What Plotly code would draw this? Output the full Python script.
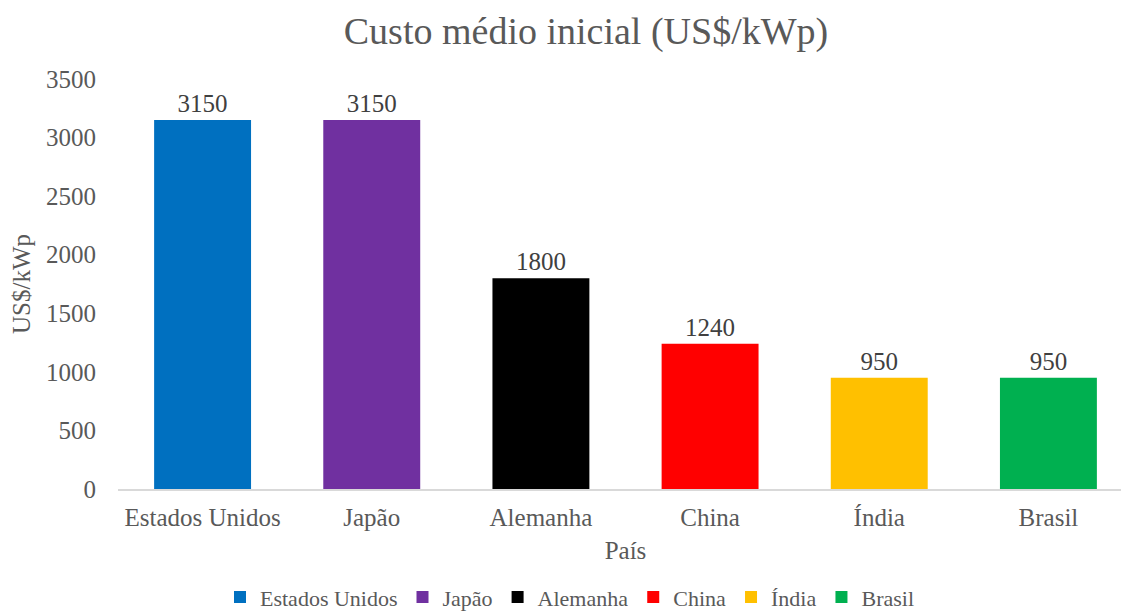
import plotly.graph_objects as go

paises = ["Estados Unidos", "Japão", "Alemanha", "China", "Índia", "Brasil"]
custos = [3150, 3150, 1800, 1240, 950, 950]
cores = ["#0070C0", "#7030A0", "#000000", "#FF0000", "#FFC000", "#00B050"]
y_ticks = [0, 500, 1000, 1500, 2000, 2500, 3000, 3500]

FONT = "Liberation Serif"
GRAY = "#595959"

fig = go.Figure()

# uma série por país, para a legenda mostrar cada cor
for pais, custo, cor in zip(paises, custos, cores):
    fig.add_trace(go.Bar(
        x=[pais],
        y=[custo],
        name=pais,
        marker=dict(color=cor, line=dict(width=0)),
        text=[str(custo)],
        textposition="outside",
        constraintext="none",
        textfont=dict(family=FONT, size=25, color="#404040"),
        cliponaxis=False,
    ))

# a página tem 8px de margem no body, por isso tudo vai 8px para cima/esquerda
fig.update_layout(
    width=1129,
    height=612,
    barmode="overlay",
    bargap=0.427,
    plot_bgcolor="white",
    paper_bgcolor="white",
    margin=dict(l=110, r=4, t=71, b=131, autoexpand=False),
    font=dict(family=FONT, size=25, color=GRAY),
    title=dict(
        text="Custo médio inicial (US$/kWp)",
        font=dict(family=FONT, size=38, color=GRAY),
        x=578 / 1129,
        xanchor="center",
        y=1 - 23 / 612,
        yanchor="middle",
    ),
    xaxis=dict(
        categoryorder="array",
        categoryarray=paises,
        range=[-0.5, 5.5],
        automargin=False,
        tickangle=0,
        showline=True,
        linecolor="#D9D9D9",
        linewidth=1.5,
        showgrid=False,
        ticks="",
        ticklabelstandoff=5,
        tickfont=dict(family=FONT, size=25, color=GRAY),
        title=dict(text="País", font=dict(family=FONT, size=25, color=GRAY), standoff=12),
    ),
    yaxis=dict(
        range=[0, 3500],
        tickvals=y_ticks,
        automargin=False,
        showgrid=False,
        zeroline=False,
        showline=False,
        ticks="",
        ticklabelstandoff=21,
        tickfont=dict(family=FONT, size=25, color=GRAY),
        title=dict(text="US$/kWp", font=dict(family=FONT, size=25, color=GRAY), standoff=12),
    ),
    legend=dict(
        orientation="h",
        x=(562 - 110) / 1015,
        xanchor="center",
        y=-0.264,
        yanchor="middle",
        font=dict(family=FONT, size=22, color=GRAY),
        tracegroupgap=0,
        itemwidth=30,
    ),
)

fig.write_html("out.html")
